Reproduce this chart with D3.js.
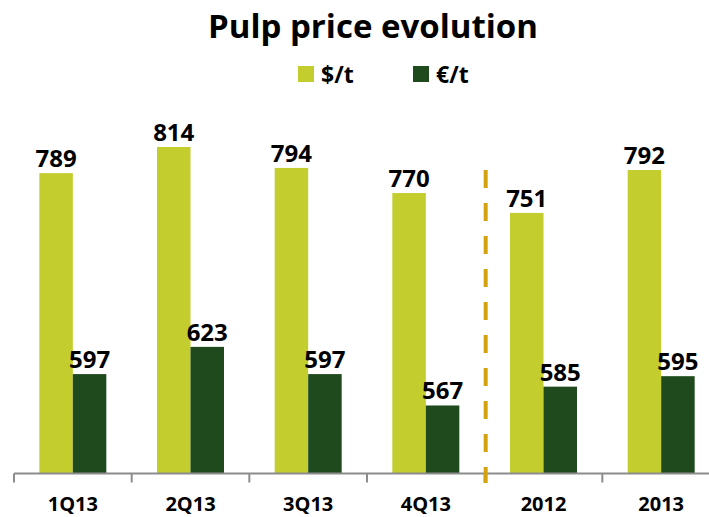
<!DOCTYPE html>
<html>
  <head>
    <meta charset="utf-8">
    <title>Pulp price evolution</title>
    <script src="https://d3js.org/d3.v7.min.js"></script>
    <style>
      body { margin: 0; background: #fff; }
      text { font-family: "Open Sans", sans-serif; font-weight: bold; fill: #000; }
    </style>
  </head>
  <body>
    <div class="chart"></div>
    <script>
    var categories = ["1Q13", "2Q13", "3Q13", "4Q13", "2012", "2013"];
    var usd = [789, 814, 794, 770, 751, 792];
    var eur = [597, 623, 597, 567, 585, 595];
    var seriesNames = ["$/t", "€/t"];
    var colors = ["#C3CD2D", "#1F4A1E"];

    var width = 709, height = 517, baseline = 473.5;

    var svg = d3.select(".chart").append("svg")
      .attr("width", width).attr("height", height);

    // title
    svg.append("text").attr("x", 373).attr("y", 38)
      .attr("text-anchor", "middle").attr("font-size", "33px")
      .text("Pulp price evolution");

    // legend
    var legendX = [298, 413];
    seriesNames.forEach(function(name, i) {
      svg.append("rect").attr("x", legendX[i]).attr("y", 66)
        .attr("width", 16).attr("height", 16).attr("fill", colors[i]);
      svg.append("text").attr("x", legendX[i] + 23).attr("y", 83)
        .attr("font-size", "23px").text(name);
    });

    var x = d3.scaleBand().domain(categories).range([14, 720]);
    var xs = d3.scaleBand().domain([0, 1]).range([0, x.bandwidth()]).paddingOuter(0.756);
    // axis does not start at zero in the original
    var y = d3.scaleLinear().domain([502, 814]).range([baseline, 147]);

    var data = categories.map(function(c, i) { return {cat: c, vals: [usd[i], eur[i]]}; });

    var groups = svg.selectAll(".grp").data(data).enter().append("g")
      .attr("class", "grp")
      .attr("transform", function(d) { return "translate(" + x(d.cat) + ",0)"; });

    groups.selectAll("rect").data(function(d) { return d.vals; }).enter().append("rect")
      .attr("x", function(d, i) { return xs(i); })
      .attr("width", xs.bandwidth())
      .attr("y", function(d) { return y(d); })
      .attr("height", function(d) { return baseline - y(d); })
      .attr("fill", function(d, i) { return colors[i]; });

    groups.selectAll(".lbl").data(function(d) { return d.vals; }).enter().append("text")
      .attr("class", "lbl")
      .attr("x", function(d, i) { return xs(i) + xs.bandwidth() / 2; })
      .attr("y", function(d) { return y(d) - 6; })
      .attr("text-anchor", "middle").attr("font-size", "24px")
      .text(function(d) { return d; });

    // x axis with ticks between categories
    var axis = svg.append("g");
    axis.append("line").attr("x1", 14).attr("x2", 720)
      .attr("y1", baseline).attr("y2", baseline)
      .attr("stroke", "#8c8c8c").attr("stroke-width", 2);
    d3.range(categories.length + 1).forEach(function(i) {
      var tx = 14 + i * x.step();
      axis.append("line").attr("x1", tx).attr("x2", tx)
        .attr("y1", baseline).attr("y2", baseline + 9)
        .attr("stroke", "#8c8c8c").attr("stroke-width", 2);
    });
    axis.selectAll(".cat").data(categories).enter().append("text")
      .attr("x", function(d) { return x(d) + x.bandwidth() / 2; })
      .attr("y", 511).attr("text-anchor", "middle").attr("font-size", "20px")
      .text(function(d) { return d; });

    // separator between quarters and years
    var sepX = x("2012") + 1;
    svg.append("line").attr("x1", sepX).attr("x2", sepX)
      .attr("y1", 170).attr("y2", 483)
      .attr("stroke", "#D4A20C").attr("stroke-width", 4)
      .attr("stroke-dasharray", "18,15");
    </script>
  </body>
</html>
